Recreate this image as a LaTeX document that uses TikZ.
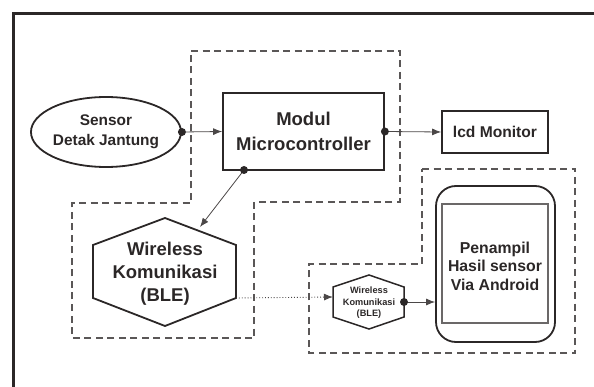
\documentclass[tikz,border=0pt]{standalone}
\usepackage{fontspec}
\setmainfont{Liberation Sans}
\usetikzlibrary{arrows.meta,calc,shapes.geometric}
\definecolor{ink}{HTML}{2B2727}
\definecolor{zonec}{HTML}{5A5757}
\begin{document}
\begin{tikzpicture}[x=1pt,y=-1pt,
  every node/.style={text=ink, align=center, inner sep=0pt},
  box/.style={draw=ink, line width=1.8pt},
  conn/.style={draw=ink!85, line width=0.8pt, -{Latex[length=9pt,width=7pt]}},
  dotconn/.style={draw=ink!85, line width=0.9pt, dotted, -{Latex[length=9pt,width=7pt]}},
  dotc/.style={fill=ink, circle, inner sep=0pt, minimum size=8pt},
  zone/.style={draw=zonec, line width=1.2pt, dash pattern=on 7pt off 4.5pt},
  frame/.style={draw=ink, line width=3pt}]
\useasboundingbox (0,0) rectangle (594,387);

% outer frame (cut off on the right and bottom)
\draw[frame] (13.5,400) -- (13.5,13.5) -- (610,13.5);

% dashed zones
\draw[zone] (191,51) -- (400,51) -- (400,202) -- (254,202) -- (254,338) -- (72,338) -- (72,203) -- (191,203) -- cycle;
\draw[zone] (422,169) -- (575,169) -- (575,353) -- (309,353) -- (309,264) -- (422,264) -- cycle;

% nodes
\node[box, ellipse, minimum width=128pt, minimum height=70pt, font=\fontsize{15.4}{20}\selectfont\bfseries] (sensor) at (106,132) {Sensor\\Detak Jantung};
\node[box, rectangle, minimum width=161pt, minimum height=77pt, font=\fontsize{18.5}{25}\selectfont\bfseries] (mcu) at (303.5,131.5) {Modul\\Microcontroller};
\node[box, rectangle, minimum width=106pt, minimum height=42pt, font=\fontsize{15.6}{19}\selectfont\bfseries] (lcd) at (495,132) {lcd Monitor};

% big hexagon
\node[font=\fontsize{18.5}{23}\selectfont\bfseries] (ble) at (165,274) {Wireless\\Komunikasi\\(BLE)};
\draw[box, line join=miter] (165,218) coordinate (bleT) -- (236,245) -- (236,298) coordinate (bleR) -- (165,326) -- (93,298) -- (93,245) -- cycle;
\coordinate (bleIn) at (200,227);

% small hexagon
\node[font=\fontsize{9.2}{11.5}\selectfont\bfseries] (sble) at (369,303) {Wireless\\Komunikasi\\(BLE)};
\draw[draw=ink, line width=1.5pt] (369,275) -- (404,287) -- (404,317) -- (369,329) -- (333,317) -- (333,287) -- cycle;
\coordinate (sbleL) at (333,297);
\coordinate (sbleR) at (404,302);

% phone
\node[box, rounded corners=20pt, minimum width=119pt, minimum height=156pt] (phone) at (495.5,264) {};
\node[draw=ink!70, line width=1.1pt, minimum width=106pt, minimum height=119pt] (screen) at (495,263.5) {};
\node[font=\fontsize{15.8}{18.5}\selectfont\bfseries] (ptext) at (495,266) {Penampil\\Hasil sensor\\Via Android};

% connectors
\coordinate (s1) at (sensor.east);
\draw[conn] (s1) -- (mcu.west);
\node[dotc] (d1) at (s1) {};
\coordinate (m1) at (mcu.east);
\draw[conn] (m1) -- (lcd.west);
\node[dotc] (d2) at (m1) {};
\coordinate (m2) at (244,170);
\draw[conn] (m2) -- (bleIn);
\node[dotc] (d3) at (m2) {};
\draw[dotconn] (bleR) -- (sbleL);
\draw[conn] (sbleR) -- (phone.west |- sbleR);
\node[dotc] (d4) at (sbleR) {};
\end{tikzpicture}
\end{document}
